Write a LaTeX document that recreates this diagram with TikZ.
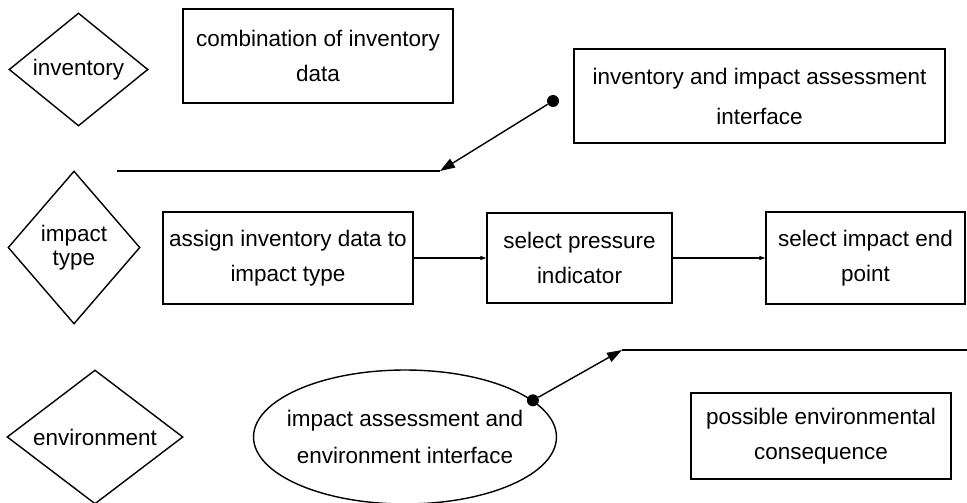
\documentclass[tikz,border=0pt]{standalone}
\usepackage{fontspec}
\setmainfont{Liberation Sans}
\usepackage{tikz}
\usetikzlibrary{shapes.geometric, arrows.meta, positioning}

\begin{document}
\begin{tikzpicture}[
    x=0.02cm, y=-0.02cm,
    font=\fontsize{12.8pt}{19.9pt}\selectfont,
    box/.style={rectangle, draw=black, line width=0.8pt, align=center, inner sep=0pt},
    dia/.style={diamond, draw=black, line width=0.8pt, inner sep=0pt},
    dlabel/.style={align=center, font=\fontsize{12.8pt}{13.4pt}\selectfont},
    blob/.style={circle, fill=black, inner sep=0pt, minimum size=0.24cm},
    arr/.style={-{Triangle[length=0.3cm, width=0.2cm]}, line width=0.8pt},
    sarr/.style={-{Triangle[length=0.12cm, width=0.08cm]}, line width=0.6pt},
    rail/.style={line width=1pt}
]
\useasboundingbox (0,0) rectangle (967,503);

% left column
\node[dia, minimum width=2.78cm, minimum height=2.26cm,
      label={[dlabel]center:inventory}] (inv) at (78.5,69.5) {};
\node[dia, minimum width=2.64cm, minimum height=3.06cm,
      label={[dlabel]center:impact\\type}] (imp) at (74,247.5) {};
\node[dia, minimum width=3.52cm, minimum height=2.68cm,
      label={[dlabel]center:environment}] (env) at (95,437) {};

% boxes
\node[box, minimum width=5.4cm, minimum height=1.88cm] (comb) at (318,56) {combination of inventory\\data};
\node[box, minimum width=7.42cm, minimum height=1.88cm,
      font=\fontsize{12.8pt}{22.8pt}\selectfont] (iaif) at (759.5,96) {inventory and impact assessment\\interface};
\node[box, minimum width=5.0cm, minimum height=1.84cm] (assign) at (288,258) {assign inventory data to\\impact type};
\node[box, minimum width=3.7cm, minimum height=1.8cm] (press) at (579.5,258) {select pressure\\indicator};
\node[box, minimum width=3.98cm, minimum height=1.84cm] (endpt) at (865.5,258) {select impact end\\point};
\node[box, minimum width=5.2cm, minimum height=1.72cm] (conseq) at (821,436) {possible environmental\\consequence};
\node[ellipse, draw=black, line width=0.8pt, inner sep=0pt, minimum width=6.06cm, minimum height=2.68cm,
      label={[align=center, font=\fontsize{12.8pt}{21pt}\selectfont]center:impact assessment and\\environment interface}] (ell) at (405,437) {};

% interfaces
\node[blob] (dot1) at (553,101) {};
\node[blob] (dot2) at (ell.16) {};
\coordinate (railL) at (117,171);
\coordinate (tip1) at (440,171);
\coordinate (tip2) at (622,350);
\coordinate (railR) at (967,350);

\draw[rail] (railL) -- (tip1);
\draw[arr] (dot1) -- (tip1);
\draw[arr] (dot2) -- (tip2);
\draw[rail] (tip2) -- (railR);

\draw[sarr] (assign) -- (press);
\draw[sarr] (press) -- (endpt);
\end{tikzpicture}
\end{document}
